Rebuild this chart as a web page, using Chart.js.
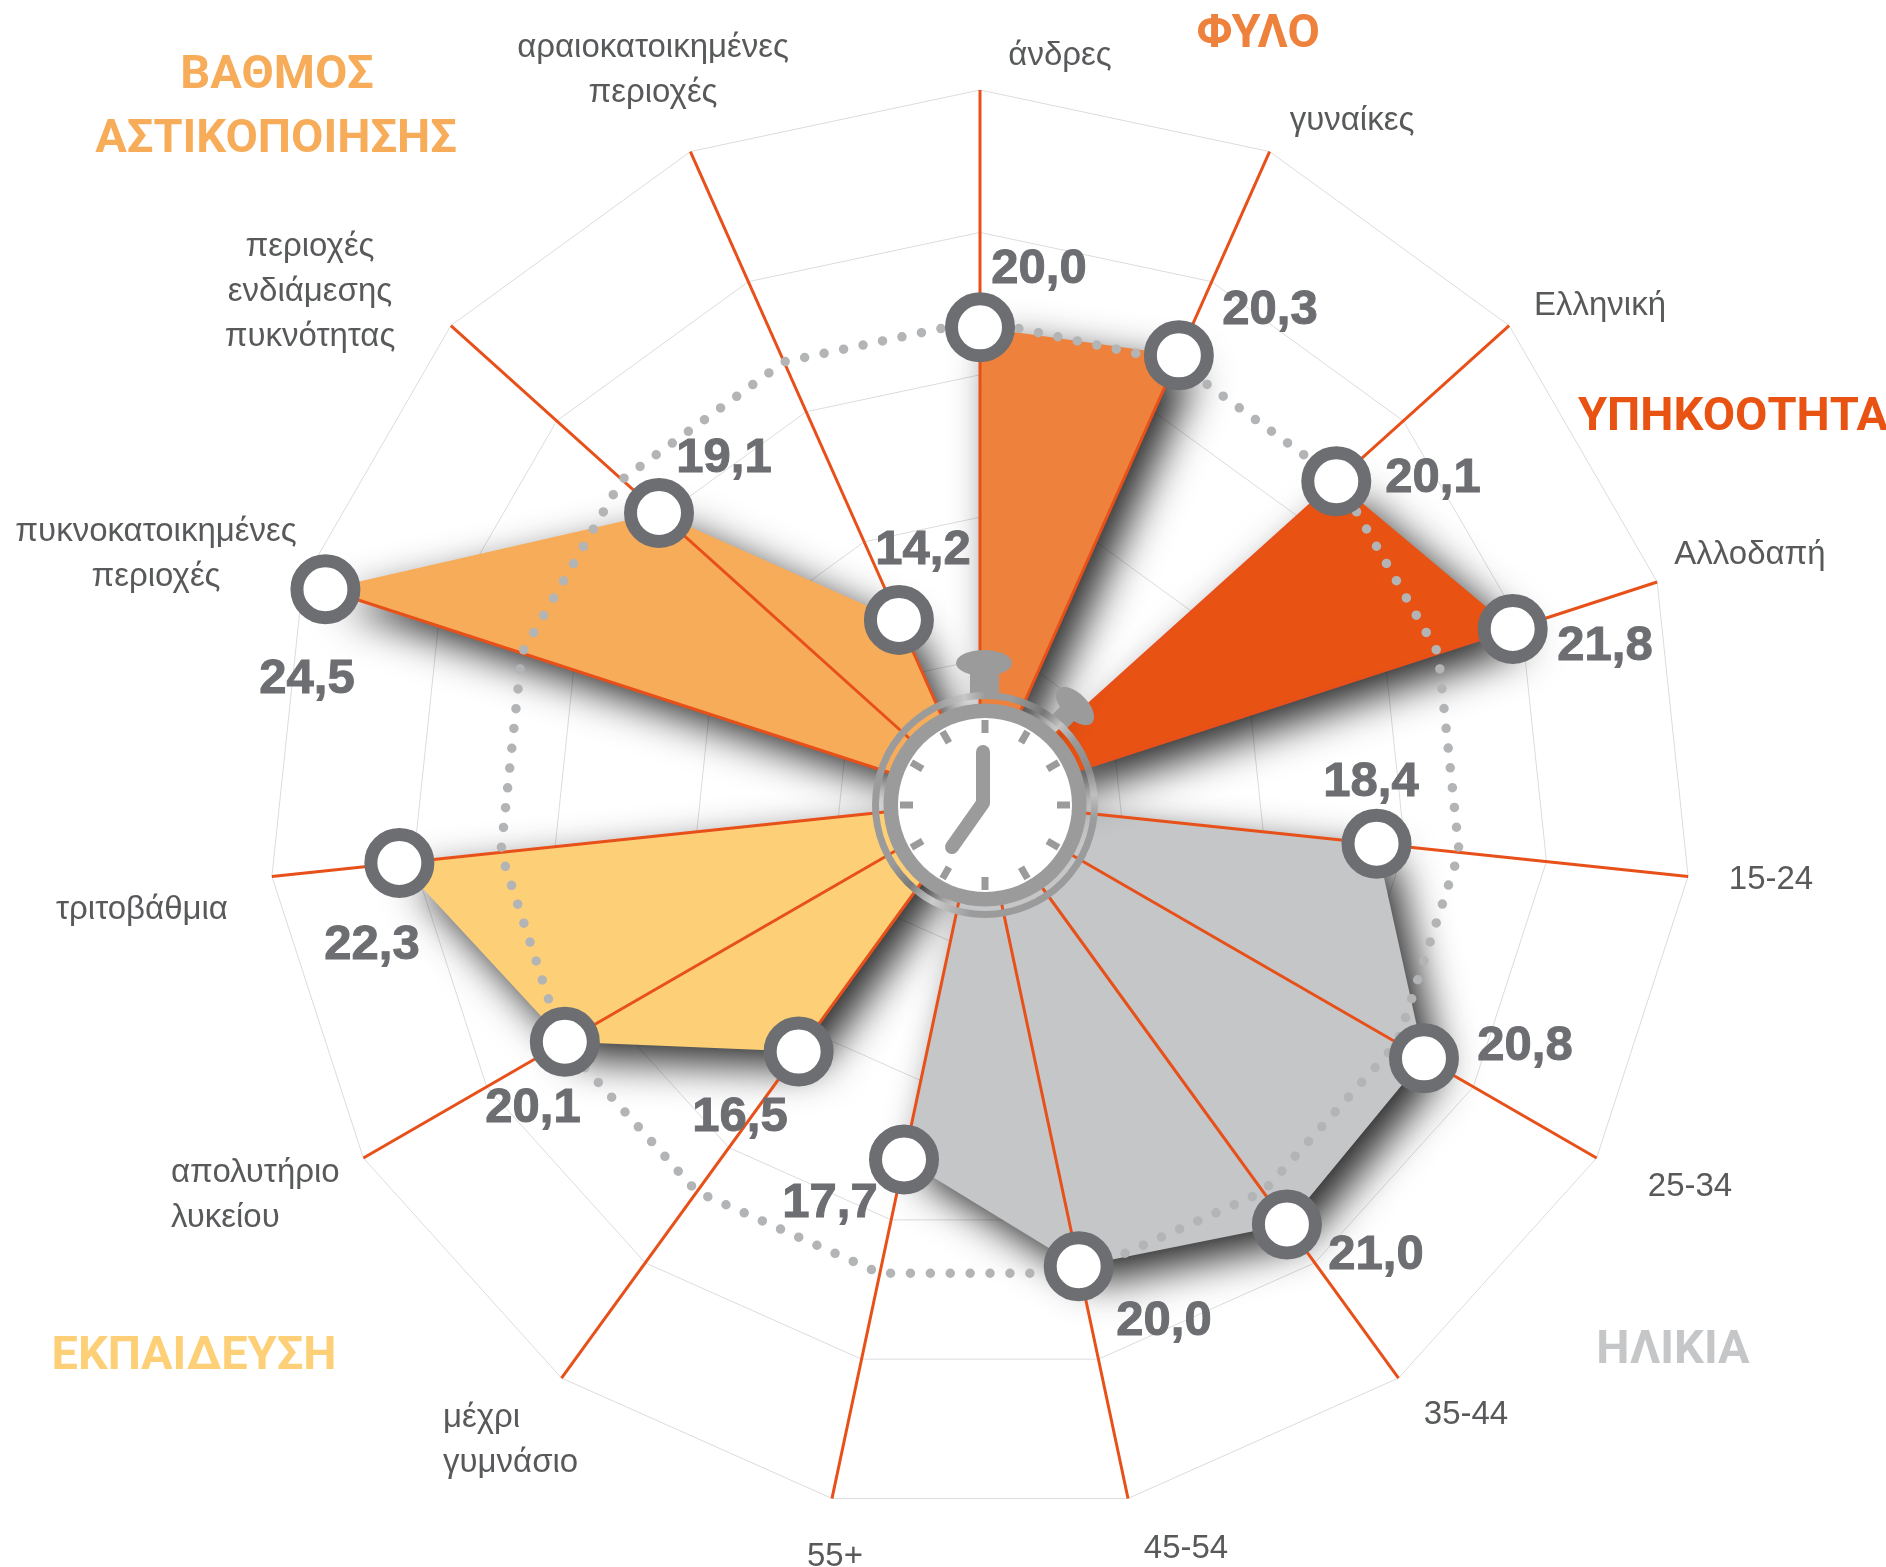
<!DOCTYPE html>
<html lang="el">
<head>
<meta charset="utf-8">
<title>Radar</title>
<script src="https://cdn.jsdelivr.net/npm/chart.js@4"></script>
<style>
    html, body { margin: 0; background: #fff; }
    canvas { display: block; }
</style>
</head>
<body>
<canvas id="radarChart" width="1886" height="1567"></canvas>
<script>
// Data
const categories = [
    'άνδρες', 'γυναίκες', 'Ελληνική', 'Αλλοδαπή',
    '15-24', '25-34', '35-44', '45-54', '55+',
    ['μέχρι', 'γυμνάσιο'], ['απολυτήριο', 'λυκείου'], 'τριτοβάθμια',
    ['πυκνοκατοικημένες', 'περιοχές'], ['περιοχές', 'ενδιάμεσης', 'πυκνότητας'], ['αραιοκατοικημένες', 'περιοχές']
];
const values = [20.0, 20.3, 20.1, 21.8, 18.4, 20.8, 21.0, 20.0, 17.7, 16.5, 20.1, 22.3, 24.5, 19.1, 14.2];
const average = 20.15;
const groupFirst = [0, 2, 4, 9, 12];
const groupLast = [1, 3, 8, 11, 14];
const groupColors = ['#EE813C', '#E85212', '#C5C6C8', '#FDD078', '#F7AC59'];
const axisMin = 10;
const axisMax = 25;
const axisStep = 3;

// Text placement, in page pixels
const categoryPos = [
    [1060, 56, 'center'], [1352, 121, 'center'], [1600, 306, 'center'], [1750, 555, 'center'],
    [1771, 880, 'center'], [1690, 1187, 'center'], [1466, 1415, 'center'], [1186, 1549, 'center'], [835, 1557, 'center'],
    [443, 1418, 'left'], [171, 1173, 'left'], [142, 910, 'center'],
    [156, 532, 'center'], [310, 247, 'center'], [653, 48, 'center']
];
const valuePos = [
    [1039, 269], [1270, 310], [1433, 478], [1605, 646], [1371, 782],
    [1525, 1046], [1376, 1255], [1164, 1321], [830, 1203], [740, 1117],
    [533, 1108], [372, 945], [307, 679], [724, 458], [923, 550]
];
const titles = [
    ['ΦΥΛΟ', 1258, 35, '#EE813C'],
    ['ΒΑΘΜΟΣ', 277, 76, '#F7AC59'],
    ['ΑΣΤΙΚΟΠΟΙΗΣΗΣ', 276, 140, '#F7AC59'],
    ['ΥΠΗΚΟΟΤΗΤΑ', 1733, 418, '#E85212'],
    ['ΕΚΠΑΙΔΕΥΣΗ', 194, 1357, '#FDD078'],
    ['ΗΛΙΚΙΑ', 1673, 1351, '#C5C6C8']
];

// One filled wedge per group: points outside the group sit on the axis minimum (the centre)
const wedges = groupColors.map((color, g) => ({
    data: values.map((v, i) => (i >= groupFirst[g] && i <= groupLast[g]) ? v : axisMin),
    backgroundColor: color,
    borderWidth: 0,
    pointRadius: 0,
    fill: 'start'
}));

// Shadows under the wedges, then the spokes on top of them
const wedgeLayer = {
    id: 'wedgeLayer',
    beforeDatasetsDraw(chart) {
        const ctx = chart.ctx;
        ctx.save();
        ctx.shadowColor = 'rgba(0,0,0,0.85)';
        ctx.shadowBlur = 42;
        ctx.shadowOffsetX = 16;
        ctx.shadowOffsetY = 16;
    },
    afterDatasetDraw(chart, args) {
        if (args.index !== 2) return;
        const ctx = chart.ctx;
        const r = chart.scales.r;
        ctx.restore();
        ctx.save();
        ctx.strokeStyle = '#E8501A';
        ctx.lineWidth = 3;
        categories.forEach((c, i) => {
            const p = r.getPointPositionForValue(i, axisMax);
            ctx.beginPath();
            ctx.moveTo(r.xCenter, r.yCenter);
            ctx.lineTo(p.x, p.y);
            ctx.stroke();
        });
        ctx.restore();
    }
};

// Stopwatch in the middle
function drawClock(ctx, cx, cy) {
    const grey = '#9B9B9B';
    ctx.save();
    ctx.translate(cx, cy);
    ctx.fillStyle = grey;
    ctx.strokeStyle = grey;

    // crown
    ctx.fillRect(-15, -134, 29, 28);
    ctx.beginPath();
    ctx.ellipse(-1, -142, 28, 13, 0, 0, Math.PI * 2);
    ctx.fill();

    // side button
    ctx.save();
    ctx.translate(90, -99);
    ctx.rotate(Math.PI / 4);
    ctx.fillRect(-10, 0, 20, 22);
    ctx.beginPath();
    ctx.ellipse(0, 0, 24, 12.5, 0, 0, Math.PI * 2);
    ctx.fill();
    ctx.restore();

    // outer ring with a metallic sheen
    const sheen = ctx.createConicGradient(-Math.PI / 2, 0, 0);
    [[0, '#9B9B9B'], [0.04, '#9B9B9B'], [0.09, '#777'], [0.12, '#C4C4C4'], [0.15, '#9B9B9B'],
     [0.2, '#8A8A8A'], [0.235, '#C0C0C0'], [0.27, '#9B9B9B'], [0.52, '#9B9B9B'], [0.58, '#CCC'],
     [0.62, '#7A7A7A'], [0.66, '#9B9B9B'], [0.93, '#9B9B9B'], [0.97, '#C8C8C8'], [1, '#9B9B9B']
    ].forEach(([at, color]) => sheen.addColorStop(at, color));
    ctx.strokeStyle = sheen;
    ctx.lineWidth = 7;
    ctx.beginPath();
    ctx.arc(0, 0, 109.5, 0, Math.PI * 2);
    ctx.stroke();

    ctx.strokeStyle = grey;
    ctx.lineWidth = 15;
    ctx.beginPath();
    ctx.arc(0, 0, 94, 0, Math.PI * 2);
    ctx.stroke();

    // dial
    ctx.fillStyle = '#fff';
    ctx.beginPath();
    ctx.arc(0, 0, 87, 0, Math.PI * 2);
    ctx.fill();

    // hour marks
    ctx.lineWidth = 7;
    for (let h = 0; h < 12; h++) {
        const a = h * Math.PI / 6;
        ctx.beginPath();
        ctx.moveTo(Math.sin(a) * 72, -Math.cos(a) * 72);
        ctx.lineTo(Math.sin(a) * 85, -Math.cos(a) * 85);
        ctx.stroke();
    }

    // hands
    ctx.lineWidth = 14;
    ctx.lineCap = 'round';
    ctx.lineJoin = 'round';
    ctx.beginPath();
    ctx.moveTo(-2, -53);
    ctx.lineTo(-2, -2);
    ctx.lineTo(-33, 42);
    ctx.stroke();
    ctx.restore();
}

// Labels, values, group titles and the stopwatch
const overlay = {
    id: 'overlay',
    afterDatasetsDraw(chart) {
        const ctx = chart.ctx;
        const r = chart.scales.r;
        drawClock(ctx, r.xCenter + 5, r.yCenter + 3);

        ctx.save();
        ctx.textBaseline = 'middle';

        ctx.font = '33px "Liberation Sans"';
        ctx.fillStyle = '#58595B';
        categories.forEach((c, i) => {
            const [x, y, align] = categoryPos[i];
            const lines = [].concat(c);
            ctx.textAlign = align;
            lines.forEach((line, k) => ctx.fillText(line, x, y + k * 45));
        });

        ctx.font = 'bold 49px "Liberation Sans"';
        ctx.fillStyle = '#6D6E71';
        ctx.strokeStyle = '#6D6E71';
        ctx.lineWidth = 1;
        ctx.textAlign = 'center';
        values.forEach((v, i) => {
            const text = v.toFixed(1).replace('.', ',');
            ctx.fillText(text, valuePos[i][0], valuePos[i][1]);
            ctx.strokeText(text, valuePos[i][0], valuePos[i][1]);
        });

        ctx.font = 'bold 47px Roboto';
        titles.forEach(([text, x, y, color]) => {
            ctx.fillStyle = color;
            ctx.fillText(text, x, y);
        });
        ctx.restore();
    }
};

new Chart(document.getElementById('radarChart'), {
    type: 'radar',
    data: {
        labels: categories,
        datasets: [
            {
                // markers
                data: values,
                showLine: false,
                fill: false,
                borderWidth: 0,
                pointRadius: 28.5,
                pointBorderWidth: 13,
                pointBorderColor: '#6D6E71',
                pointBackgroundColor: '#FFFFFF'
            },
            {
                // dotted average
                data: categories.map(() => average),
                fill: false,
                borderColor: '#B3B4B6',
                borderWidth: 9.5,
                borderDash: [0, 19.9],
                borderCapStyle: 'round',
                pointRadius: 0
            },
            ...wedges
        ]
    },
    options: {
        responsive: false,
        animation: false,
        layout: {
            padding: { left: 268, right: 194, top: 90, bottom: 53 }
        },
        plugins: {
            legend: { display: false },
            tooltip: { enabled: false }
        },
        scales: {
            r: {
                min: axisMin,
                max: axisMax,
                ticks: { display: false, stepSize: axisStep },
                grid: { color: '#DCDCDC', lineWidth: 1 },
                angleLines: { display: false },
                pointLabels: { display: false }
            }
        }
    },
    plugins: [wedgeLayer, overlay]
});
</script>
</body>
</html>
